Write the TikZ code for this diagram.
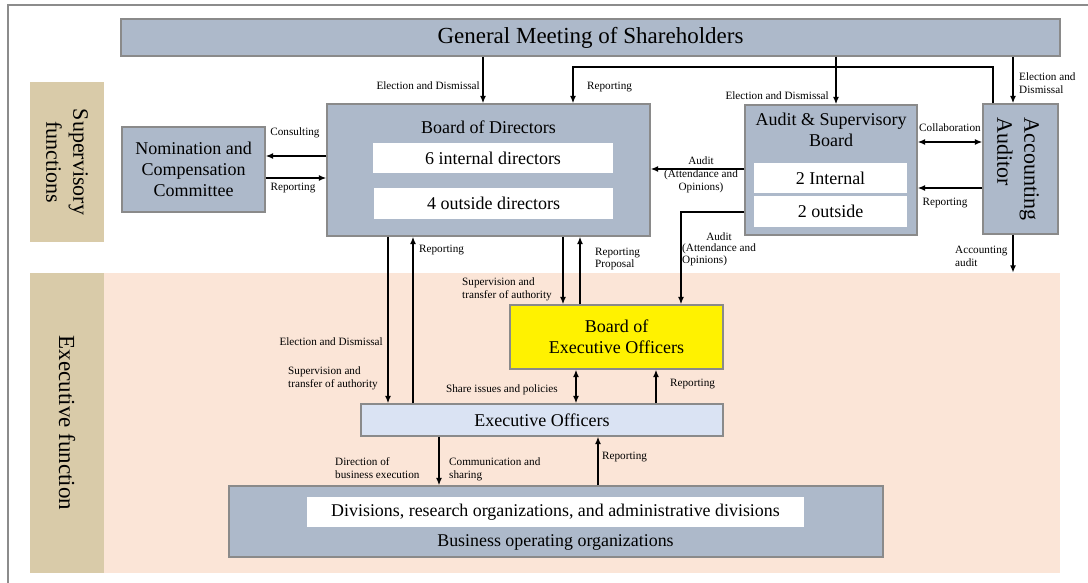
\documentclass[tikz,border=0pt]{standalone}
\usepackage{fontspec}
\setmainfont{Liberation Serif}
\usetikzlibrary{arrows.meta}
\definecolor{boxblue}{HTML}{ADB9CA}
\definecolor{boxedge}{HTML}{8A8A8A}
\definecolor{tanfill}{HTML}{D9CBA9}
\definecolor{pinkfill}{HTML}{FBE5D7}
\definecolor{eoblue}{HTML}{DAE3F3}
\definecolor{framegray}{HTML}{8C8C8C}
\tikzset{
  box/.style={draw=boxedge, line width=1.2pt, fill=boxblue, inner sep=0pt, align=center,
    font=\fontsize{18}{21}\selectfont},
  whitebox/.style={fill=white, inner sep=0pt, align=center, font=\fontsize{18}{21}\selectfont},
  tanbox/.style={fill=tanfill, inner sep=0pt},
  sidetext/.style={rotate=-90, align=center, inner sep=0pt, font=\fontsize{22}{27}\selectfont},
  title/.style={inner sep=0pt, align=center, font=\fontsize{18}{20.5}\selectfont},
  lbl/.style={inner sep=0pt, font=\fontsize{11.2}{12.8}\selectfont},
  arr/.style={-{Latex[length=7.5pt,width=6pt]}, line width=2pt},
  darr/.style={{Latex[length=7.5pt,width=6pt]}-{Latex[length=7.5pt,width=6pt]}, line width=2pt},
}
\begin{document}
\begin{tikzpicture}[x=1pt,y=-1pt]
\useasboundingbox (0,0) rectangle (1088,583);
\fill[white] (0,0) rectangle (1088,583);
% frame
\draw[framegray, line width=1.5pt] (8,583) -- (8,5) -- (1088,5);
% regions
\node[fill=pinkfill, inner sep=0pt, minimum width=956pt, minimum height=300pt] (pink) at (582,423) {};
\node[tanbox, minimum width=74pt, minimum height=160pt] (sup) at (67,162) {};
\node[sidetext] (suptext) at (sup.center) {Supervisory\\functions};
\node[tanbox, minimum width=74pt, minimum height=300pt] (exe) at (67,423) {};
\node[sidetext, font=\fontsize{23}{27}\selectfont] (exetext) at (exe.center) {Executive function};
% boxes
\node[box, minimum width=939pt, minimum height=37pt, font=\fontsize{23}{27}\selectfont] (gm) at (590.5,37.5) {General Meeting of Shareholders};
\node[box, minimum width=143pt, minimum height=85pt] (nom) at (193.5,169.5) {Nomination and\\Compensation\\Committee};
\node[box, minimum width=323pt, minimum height=132pt] (bod) at (488.5,170) {};
\node[title] (bodt) at (488.5,127) {Board of Directors};
\node[whitebox, minimum width=240pt, minimum height=30pt] (bodi) at (493,158) {6 internal directors};
\node[whitebox, minimum width=239pt, minimum height=31pt] (bodo) at (493.5,203.5) {4 outside directors};
\node[box, minimum width=172pt, minimum height=130pt] (asb) at (831,170) {};
\node[title] (asbt) at (831,130) {Audit \& Supervisory\\Board};
\node[whitebox, minimum width=153pt, minimum height=30pt] (asbi) at (830.5,178) {2 Internal};
\node[whitebox, minimum width=153pt, minimum height=31pt] (asbo) at (830.5,211.5) {2 outside};
\node[box, minimum width=75pt, minimum height=130pt] (aud) at (1020.5,169) {};
\node[sidetext, align=left] (audt) at (1018,169) {Accounting\\Auditor};
\node[box, fill=yellow, minimum width=213pt, minimum height=64pt] (beo) at (616.5,337) {Board of\\Executive Officers};
\node[box, fill=eoblue, minimum width=362pt, minimum height=32pt] (eo) at (542,420) {Executive Officers};
\node[box, minimum width=654pt, minimum height=71pt] (boo) at (556,521.5) {};
\node[whitebox, minimum width=497pt, minimum height=30pt, font=\fontsize{17.9}{20}\selectfont] (div) at (555.5,512) {Divisions, research organizations, and administrative divisions};
\node[title, font=\fontsize{17.9}{20}\selectfont] (boot) at (555.5,543) {Business operating organizations};
% connectors
\draw[arr] (gm.south -| 483,0) -- (bod.north -| 483,0);
\draw[arr] (aud.north -| 993,0) -- ++(0,-36) -| (bod.north -| 573,0);
\draw[arr] (gm.south -| 836,0) -- (asb.north -| 836,0);
\draw[arr] (gm.south -| 1013,0) -- (aud.north -| 1013,0);
\draw[arr] (bod.west |- 0,156) -- (nom.east |- 0,156);
\draw[arr] (nom.east |- 0,178) -- (bod.west |- 0,178);
\draw[arr] (asb.west |- 0,169) -- (bod.east |- 0,169);
\draw[darr] (asb.east |- 0,142) -- (aud.west |- 0,142);
\draw[arr] (aud.west |- 0,188) -- (asb.east |- 0,188);
\draw[arr] (aud.south -| 1013,0) -- (pink.north -| 1013,0);
\draw[arr] (asb.west |- 0,212) -| (beo.north -| 681,0);
\draw[arr] (bod.south -| 388,0) -- (eo.north -| 388,0);
\draw[arr] (eo.north -| 413,0) -- (bod.south -| 413,0);
\draw[arr] (bod.south -| 563,0) -- (beo.north -| 563,0);
\draw[arr] (beo.north -| 580,0) -- (bod.south -| 580,0);
\draw[darr] (beo.south -| 576,0) -- (eo.north -| 576,0);
\draw[arr] (eo.north -| 656,0) -- (beo.south -| 656,0);
\draw[arr] (eo.south -| 439,0) -- (boo.north -| 439,0);
\draw[arr] (boo.north -| 598,0) -- (eo.south -| 598,0);
% labels
\node[lbl, anchor=east] (l1) at (480,86) {Election and Dismissal};
\node[lbl, anchor=west] (l2) at (587,87) {Reporting};
\node[lbl, anchor=east] (l3) at (829,96) {Election and Dismissal};
\node[lbl, anchor=west, align=left] (l4) at (1019,83) {Election and\\Dismissal};
\node[lbl] (l5) at (295,133) {Consulting};
\node[lbl] (l6) at (293,188) {Reporting};
\node[lbl, align=center] (l7) at (701,175) {Audit\\(Attendance and\\Opinions)};
\node[lbl] (l8) at (950,128) {Collaboration};
\node[lbl] (l9) at (945,203) {Reporting};
\node[lbl, anchor=west, align=left] (l10) at (955,256) {Accounting\\audit};
\node[lbl, anchor=west] (l11) at (682,249.5) {\def\arraystretch{0.9}\begin{tabular}{@{}l@{}}\multicolumn{1}{@{}c@{}}{Audit}\\(Attendance and\\Opinions)\end{tabular}};
\node[lbl, anchor=west] (l12) at (419,250) {Reporting};
\node[lbl, anchor=west, align=left] (l13) at (595,259) {Reporting\\Proposal};
\node[lbl, anchor=west, align=left] (l14) at (462,289) {Supervision and\\transfer of authority};
\node[lbl, anchor=east] (l15) at (383,342) {Election and Dismissal};
\node[lbl, anchor=west, align=left] (l16) at (288,378) {Supervision and\\transfer of authority};
\node[lbl, anchor=east] (l17) at (558,390) {Share issues and policies};
\node[lbl, anchor=west] (l18) at (670,384) {Reporting};
\node[lbl, anchor=west, align=left] (l19) at (335,468) {Direction of\\business execution};
\node[lbl, anchor=west, align=left] (l20) at (449,469) {Communication and\\sharing};
\node[lbl, anchor=west] (l21) at (602,457) {Reporting};
\end{tikzpicture}
\end{document}
